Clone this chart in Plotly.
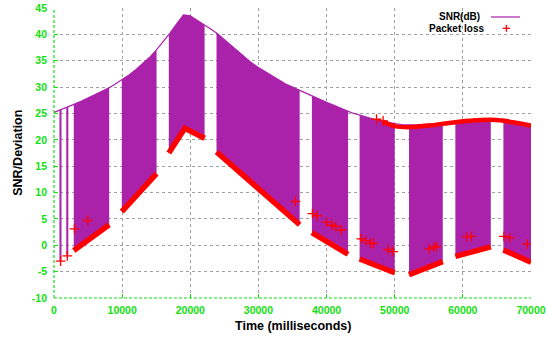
import numpy as np
import plotly.graph_objects as go

# SNR trace, sampled once per second (ms, dB)
snr_time = list(range(0, 71000, 1000))
snr_db = [
    25.2, 25.7, 26.2, 26.8, 27.3, 27.9, 28.5, 29.1, 29.8, 30.6,
    31.4, 32.3, 33.3, 34.4, 35.6, 37.0, 38.5, 40.2, 42.0, 43.7,
    43.5, 42.7, 41.8, 41.0, 40.1, 39.0, 37.9, 36.8, 35.6, 34.6,
    33.7, 32.9, 32.1, 31.3, 30.6, 30.0, 29.4, 28.8, 28.2, 27.6,
    27.1, 26.6, 26.0, 25.5, 25.0, 24.6, 24.2, 23.9, 23.6, 23.3,
    23.1, 22.9, 22.8, 22.8, 22.9, 23.0, 23.1, 23.2, 23.4, 23.5,
    23.6, 23.7, 23.8, 23.9, 24.0, 24.0, 23.9, 23.7, 23.4, 23.1,
    22.8,
]

# Transmission bursts (ms) and the deviation edge under each one
burst_start = [800, 1800, 2900, 9950, 16850, 23850, 37850, 44850, 52100, 58900, 65950]
burst_end = [1100, 2100, 8100, 15050, 22100, 36050, 43150, 50000, 57050, 64100, 70000]
edge_time = [
    [800, 1100],
    [1800, 2100],
    [2900, 8100],
    [9950, 15050],
    [16850, 19200, 22100],
    [23850, 30000, 33100, 36050],
    [37850, 43150],
    [44850, 50000],
    [52100, 57050],
    [58900, 64100],
    [65950, 70000],
]
edge_value = [
    [-3.0, -3.0],
    [-2.0, -2.0],
    [-1.0, 3.9],
    [6.4, 13.6],
    [17.5, 22.2, 20.3],
    [17.7, 10.8, 7.4, 3.9],
    [2.4, -1.7],
    [-2.6, -5.2],
    [-5.6, -3.1],
    [-2.1, -0.3],
    [-0.9, -3.2],
]

# Loss points riding along the SNR curve late in the run
upper_loss_time = [48300, 50000, 52000, 55000, 58000, 61000, 64000, 66000, 68000, 70000]
upper_loss_value = [23.4, 22.6, 22.4, 22.7, 23.2, 23.6, 23.8, 23.6, 23.2, 22.7]

# Isolated packet-loss points
loss_time = [970, 1950, 3000, 4950, 35430, 37920, 38600, 39980, 40800, 41340, 42180,
             45110, 45750, 46440, 46900, 49030, 49770, 47330, 48300,
             55050, 55790, 56130, 60530, 61260, 66020, 66900, 69440]
loss_value = [-3.0, -2.0, 3.1, 4.7, 8.3, 6.0, 5.6, 4.4, 3.8, 3.6, 2.9,
              1.2, 0.9, 0.4, 0.3, -0.8, -1.2, 23.9, 23.6,
              -0.7, -0.35, -0.2, 1.6, 1.7, 1.7, 1.4, 0.2]

x_ticks = [0, 10000, 20000, 30000, 40000, 50000, 60000, 70000]
y_ticks = list(range(-10, 50, 5))

PURPLE = "#aa22aa"
RED = "#ff0000"
GREEN = "#11e011"

fig = go.Figure()

# Filled bursts between the SNR curve and the deviation edge
for s, e, et, ev in zip(burst_start, burst_end, edge_time, edge_value):
    inner = [t for t in snr_time if s < t < e]
    tt = [s] + inner + [e]
    top = np.interp(tt, snr_time, snr_db)
    bot = np.interp(tt[::-1], et, ev)
    fig.add_trace(go.Scatter(
        x=tt + tt[::-1], y=list(top) + list(bot),
        fill="toself", fillcolor=PURPLE, mode="lines",
        line=dict(width=0, color=PURPLE), hoverinfo="skip", showlegend=False))

# SNR curve
fig.add_trace(go.Scatter(x=snr_time, y=snr_db, mode="lines",
                         line=dict(color=PURPLE, width=1.2), showlegend=False))

# Dense packet loss along each burst's lower edge
band_x, band_y = [], []
for s, e, et, ev in zip(burst_start, burst_end, edge_time, edge_value):
    if e - s < 1000:
        continue
    band_x += et + [None]
    band_y += ev + [None]
fig.add_trace(go.Scatter(x=band_x, y=band_y, mode="lines",
                         line=dict(color=RED, width=5.5), showlegend=False))
fig.add_trace(go.Scatter(x=upper_loss_time, y=upper_loss_value, mode="lines",
                         line=dict(color=RED, width=4.5, shape="spline"), showlegend=False))

fig.add_trace(go.Scatter(x=loss_time, y=loss_value, mode="markers",
                         marker=dict(symbol="cross-thin", size=7,
                                     line=dict(color=RED, width=1.3)),
                         showlegend=False))

axis_common = dict(
    showgrid=True, gridcolor="#a0a0a0", griddash="dot", gridwidth=1,
    zeroline=False, showline=False, automargin=False,
    ticks="inside", ticklen=4, tickcolor=GREEN,
    tickfont=dict(family="Liberation Sans", size=10.5, color=GREEN, weight="bold"),
)
fig.update_xaxes(range=[0, 70000], tickvals=x_ticks,
                 ticktext=[str(v) for v in x_ticks], ticklabelstandoff=4, **axis_common)
fig.update_yaxes(range=[-10, 45], tickvals=y_ticks,
                 ticktext=[str(v) for v in y_ticks], ticklabelstandoff=6, **axis_common)

shapes = [
    dict(type="line", xref="paper", yref="paper", x0=0, x1=0, y0=0, y1=1,
         line=dict(color=GREEN, width=1.2, dash="3px,2px")),
    dict(type="line", xref="paper", yref="paper", x0=0, x1=1, y0=0, y1=0,
         line=dict(color=GREEN, width=1.2, dash="3px,2px")),
    # legend keys
    dict(type="line", xref="paper", yref="paper", x0=0.916, x1=0.977, y0=0.969, y1=0.969,
         line=dict(color=PURPLE, width=1.2)),
    dict(type="line", xref="paper", yref="paper", x0=0.941, x1=0.956, y0=0.930, y1=0.930,
         line=dict(color=RED, width=1.3)),
    dict(type="line", xref="paper", yref="paper", x0=0.9485, x1=0.9485, y0=0.918, y1=0.942,
         line=dict(color=RED, width=1.3)),
]

title_font = dict(family="Liberation Sans", size=12.5, color="black", weight="bold")
legend_font = dict(family="Liberation Sans", size=10, color="black", weight="bold")
annotations = [
    dict(text="Time (milliseconds)", xref="paper", yref="paper", x=0.5, y=-0.095,
         showarrow=False, font=title_font, xanchor="center", yanchor="middle"),
    dict(text="SNR/Deviation", xref="paper", yref="paper", x=-0.076, y=0.5,
         showarrow=False, font=title_font, textangle=-90,
         xanchor="center", yanchor="middle"),
    dict(text="SNR(dB)", xref="paper", yref="paper", x=0.897, y=0.969,
         showarrow=False, font=legend_font, xanchor="right", yanchor="middle"),
    dict(text="Packet loss", xref="paper", yref="paper", x=0.905, y=0.928,
         showarrow=False, font=legend_font, xanchor="right", yanchor="middle"),
]

fig.update_layout(
    width=547, height=338,
    margin=dict(l=54.4, r=16, t=8, b=40),
    plot_bgcolor="white", paper_bgcolor="white",
    shapes=shapes, annotations=annotations,
    showlegend=False,
)

fig.write_html("out.html")
